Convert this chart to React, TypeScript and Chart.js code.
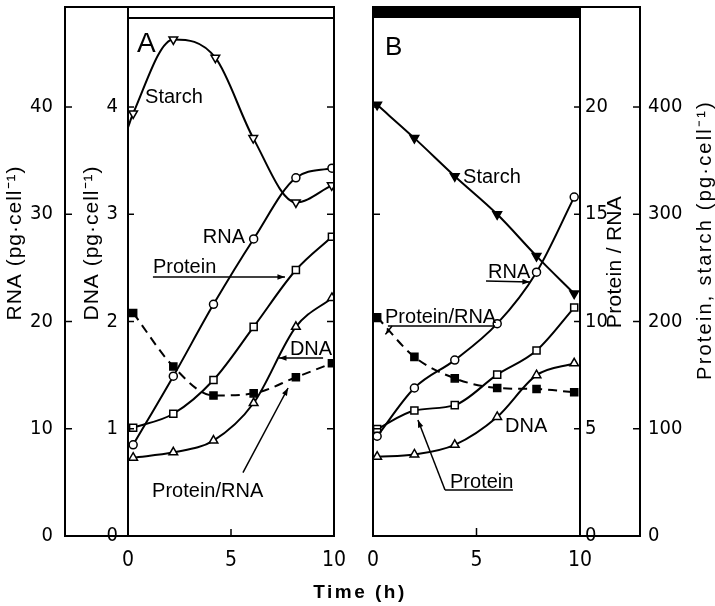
import React, { useEffect, useRef } from 'react';
import { Chart, registerables } from 'chart.js';

Chart.register(...registerables);

// ---------- tick values ----------
const TIME_TICKS = [0, 5, 10];
const RNA_TICKS = [0, 10, 20, 30, 40];
const DNA_TICKS = [0, 1, 2, 3, 4];
const RATIO_TICKS = [0, 5, 10, 15, 20];
const PS_TICKS = [0, 100, 200, 300, 400];

// ---------- Panel A (light) ----------
const TIME_A = [0.25, 2.2, 4.15, 6.1, 8.15, 9.9];
const STARCH_TIME_A = [0, 0.25, 2.2, 4.24, 6.08, 8.15, 9.89];
const STARCH_A = [381, 394, 463, 446, 371, 311, 327];
const RNA_A = [8.5, 14.9, 21.6, 27.7, 33.4, 34.3];
const PROTEIN_A = [101, 114, 145.5, 195, 248, 279];
const DNA_A = [0.73, 0.78, 0.89, 1.24, 1.95, 2.22];
const RATIO_A = [10.4, 7.9, 6.55, 6.65, 7.4, 8.05];

// ---------- Panel B (dark) ----------
const TIME_B = [0.2, 2.0, 3.95, 6.0, 7.9, 9.72];
const STARCH_B = [402, 371, 335.5, 300, 261, 226];
const RNA_B = [9.3, 13.8, 16.4, 19.8, 24.6, 31.6];
const PROTEIN_B = [99.7, 117, 122, 150.5, 173, 213];
const DNA_B = [0.74, 0.76, 0.85, 1.11, 1.5, 1.61];
const RATIO_B = [10.2, 8.35, 7.35, 6.9, 6.85, 6.7];

// axis ranges
const RNA_MAX = 48.3;
const DNA_MAX = 4.83;
const RATIO_MAX = 24.15;
const PS_MAX = 483;

const SANS = "'Liberation Sans', Arial, sans-serif";
const NARROW = "'Liberation Sans Narrow', 'DejaVu Sans Condensed', 'Liberation Sans', sans-serif";

// annotations, in (time, RNA-scale value) coordinates
const LABELS_A = [
  { text: 'A', t: 0.44, v: 45.1, size: 28 },
  { text: 'Starch', t: 0.83, v: 40.4 },
  { text: 'RNA', t: 5.68, v: 27.3, align: 'right' },
  { text: 'Protein', t: 1.21, v: 24.5 },
  { text: 'DNA', t: 7.86, v: 16.9 },
  { text: 'Protein/RNA', t: 1.17, v: 3.6 },
];
const ARROWS_A = [
  { from: [1.21, 24.15], to: [7.62, 24.15] },
  { from: [9.47, 16.6], to: [7.33, 16.6] },
  { from: [5.58, 5.9], to: [7.77, 13.8] },
];
const LINES_A: any[] = [];

const LABELS_B = [
  { text: 'B', t: 0.58, v: 44.85, size: 26 },
  { text: 'Starch', t: 4.35, v: 32.9 },
  { text: 'RNA', t: 5.56, v: 24.06 },
  { text: 'Protein/RNA', t: 0.58, v: 19.86 },
  { text: 'DNA', t: 6.38, v: 9.7 },
  { text: 'Protein', t: 3.72, v: 4.48 },
];
const ARROWS_B = [
  { from: [5.46, 23.78], to: [7.58, 23.68] },
  { from: [0.92, 19.58], to: [0.6, 18.8], head: 6 },
  { from: [3.48, 4.29], to: [2.17, 10.82] },
];
const LINES_B = [
  { from: [0.72, 19.58], to: [5.89, 19.58] },
  { from: [3.48, 4.29], to: [6.76, 4.29] },
];

function seg(ctx: CanvasRenderingContext2D, x1: number, y1: number, x2: number, y2: number) {
  ctx.beginPath();
  ctx.moveTo(x1, y1);
  ctx.lineTo(x2, y2);
  ctx.stroke();
}

function arrow(ctx: CanvasRenderingContext2D, x1: number, y1: number, x2: number, y2: number, size = 8) {
  seg(ctx, x1, y1, x2, y2);
  const a = Math.atan2(y2 - y1, x2 - x1);
  ctx.beginPath();
  ctx.moveTo(x2, y2);
  ctx.lineTo(x2 - size * Math.cos(a - 0.35), y2 - size * Math.sin(a - 0.35));
  ctx.lineTo(x2 - size * Math.cos(a + 0.35), y2 - size * Math.sin(a + 0.35));
  ctx.closePath();
  ctx.fill();
}

function rotText(ctx: CanvasRenderingContext2D, text: string, x: number, y: number, size: number, spacing = 0) {
  ctx.save();
  ctx.translate(x, y);
  ctx.rotate(-Math.PI / 2);
  ctx.font = `${size}px ${SANS}`;
  (ctx as any).letterSpacing = `${spacing}px`;
  ctx.textAlign = 'center';
  ctx.textBaseline = 'middle';
  ctx.fillText(text, 0, 0);
  ctx.restore();
}

function drawAnnotations(chart: any, labels: any[], arrows: any[], lines: any[]) {
  const { ctx, scales } = chart;
  const X = (t: number) => scales.x.getPixelForValue(t);
  const Y = (v: number) => scales.rna.getPixelForValue(v);
  ctx.save();
  ctx.fillStyle = '#000';
  ctx.strokeStyle = '#000';
  ctx.lineWidth = 1.5;
  labels.forEach((l) => {
    ctx.font = `${l.size || 20}px ${SANS}`;
    ctx.textAlign = l.align || 'left';
    ctx.textBaseline = 'alphabetic';
    ctx.fillText(l.text, X(l.t), Y(l.v));
  });
  lines.forEach((l) => seg(ctx, X(l.from[0]), Y(l.from[1]), X(l.to[0]), Y(l.to[1])));
  arrows.forEach((a) => arrow(ctx, X(a.from[0]), Y(a.from[1]), X(a.to[0]), Y(a.to[1]), a.head || 8));
  ctx.restore();
}

const BAR = 11;

const frameA = {
  id: 'frameA',
  afterDraw(chart: any) {
    const { ctx, chartArea: ca, scales } = chart;
    const rna = scales.rna;
    const dna = scales.dna;
    const outerL = rna.right;
    const top = ca.top - BAR;
    ctx.save();
    ctx.strokeStyle = '#000';
    ctx.lineWidth = 2;
    ctx.strokeRect(outerL, top, ca.right - outerL, ca.bottom - top);
    seg(ctx, ca.left, top, ca.left, ca.bottom);
    seg(ctx, ca.left, ca.top, ca.right, ca.top);
    ctx.lineWidth = 1.5;
    RNA_TICKS.filter((v) => v > 0).forEach((v) => {
      const y = rna.getPixelForValue(v);
      seg(ctx, outerL, y, outerL + 7, y);
      seg(ctx, ca.right, y, ca.right - 7, y);
    });
    DNA_TICKS.filter((v) => v > 0).forEach((v) => {
      const y = dna.getPixelForValue(v);
      seg(ctx, ca.left, y, ca.left + 6, y);
    });
    const x5 = scales.x.getPixelForValue(5);
    seg(ctx, x5, ca.bottom, x5, ca.bottom - 7);
    ctx.fillStyle = '#000';
    rotText(ctx, 'RNA (pg·cell⁻¹)', rna.left + 15, ca.top + 225, 21, 1);
    rotText(ctx, 'DNA (pg·cell⁻¹)', dna.left + 27, ca.top + 225, 21, 1);
    ctx.font = `bold 19px ${SANS}`;
    (ctx as any).letterSpacing = '2.5px';
    ctx.textAlign = 'center';
    ctx.textBaseline = 'alphabetic';
    ctx.fillText('Time (h)', ca.right + 26, 598);
    ctx.restore();
    drawAnnotations(chart, LABELS_A, ARROWS_A, LINES_A);
  },
};

const frameB = {
  id: 'frameB',
  afterDraw(chart: any) {
    const { ctx, chartArea: ca, scales } = chart;
    const ratio = scales.ratio;
    const ps = scales.ps;
    const outerR = ratio.right;
    const top = ca.top - BAR;
    ctx.save();
    ctx.fillStyle = '#000';
    ctx.fillRect(ca.left, top, ca.right - ca.left, BAR);
    ctx.strokeStyle = '#000';
    ctx.lineWidth = 2;
    ctx.strokeRect(ca.left, top, outerR - ca.left, ca.bottom - top);
    seg(ctx, ca.right, top, ca.right, ca.bottom);
    ctx.lineWidth = 1.5;
    RATIO_TICKS.filter((v) => v > 0).forEach((v) => {
      const y = ratio.getPixelForValue(v);
      seg(ctx, ca.left, y, ca.left + 7, y);
      seg(ctx, ca.right, y, ca.right - 6, y);
    });
    PS_TICKS.filter((v) => v > 0).forEach((v) => {
      const y = ps.getPixelForValue(v);
      seg(ctx, outerR, y, outerR - 7, y);
    });
    const x5 = scales.x.getPixelForValue(5);
    seg(ctx, x5, ca.bottom, x5, ca.bottom - 8);
    rotText(ctx, 'Protein / RNA', ratio.left + 35, ca.top + 244, 21, 0.3);
    rotText(ctx, 'Protein, starch (pg·cell⁻¹)', ps.left + 65, ca.top + 222, 20, 2.2);
    ctx.restore();
    drawAnnotations(chart, LABELS_B, ARROWS_B, LINES_B);
  },
};

function yAxis(max: number, ticks: number[], opts: any = {}) {
  return {
    type: 'linear',
    axis: 'y',
    min: 0,
    max,
    display: opts.display !== undefined ? opts.display : true,
    position: opts.position || 'left',
    weight: opts.weight || 0,
    grid: { display: false, drawTicks: false },
    border: { display: false },
    ticks: { padding: opts.padding || 8, color: '#000', font: { family: NARROW, size: 20 }, autoSkip: false },
    afterBuildTicks: (s: any) => {
      s.ticks = ticks.map((v) => ({ value: v }));
    },
    afterFit: (s: any) => {
      if (opts.width !== undefined) s.width = opts.width;
      s.paddingTop = 0;
      s.paddingBottom = 0;
    },
  };
}

const xAxis = {
  type: 'linear',
  axis: 'x',
  position: 'bottom',
  min: 0,
  max: 10,
  grid: { display: false, drawTicks: false },
  border: { display: false },
  ticks: { padding: 12, color: '#000', font: { family: NARROW, size: 21 }, autoSkip: false },
  afterBuildTicks: (s: any) => {
    s.ticks = TIME_TICKS.map((v) => ({ value: v }));
  },
  afterFit: (s: any) => {
    s.height = 70;
    s.paddingLeft = 0;
    s.paddingRight = 0;
  },
};

function series(xs: number[], ys: number[], yAxisID: string, st: any) {
  return {
    label: st.label,
    yAxisID,
    xAxisID: 'x',
    data: xs.map((x, i) => ({ x, y: ys[i] })),
    borderColor: '#000',
    borderWidth: 2,
    cubicInterpolationMode: 'monotone',
    fill: false,
    borderDash: st.dash || [],
    pointStyle: st.shape,
    pointRadius: st.r,
    pointRotation: st.rot || 0,
    pointBorderColor: '#000',
    pointBorderWidth: 1.5,
    pointBackgroundColor: st.filled ? '#000' : '#fff',
  };
}

const baseOptions = (padding: any) => ({
  responsive: false,
  animation: false,
  devicePixelRatio: 1,
  events: [],
  layout: { padding },
  plugins: { legend: { display: false }, tooltip: { enabled: false } },
});

function configA(): any {
  return {
    type: 'line',
    data: {
      datasets: [
        series(STARCH_TIME_A, STARCH_A, 'ps', { label: 'Starch', shape: 'triangle', rot: 180, r: STARCH_A.map((_, i) => (i === 0 ? 0 : 5)) }),
        series(TIME_A, RNA_A, 'rna', { label: 'RNA', shape: 'circle', r: 4 }),
        series(TIME_A, PROTEIN_A, 'ps', { label: 'Protein', shape: 'rect', r: 5 }),
        series(TIME_A, DNA_A, 'dna', { label: 'DNA', shape: 'triangle', r: 5 }),
        series(TIME_A, RATIO_A, 'ratio', { label: 'Protein/RNA', shape: 'rect', r: 5, filled: true, dash: [9, 6] }),
      ],
    },
    options: {
      ...baseOptions({ left: 0, top: 18, right: 381, bottom: 0 }),
      scales: {
        x: xAxis,
        rna: yAxis(RNA_MAX, RNA_TICKS, { position: 'left', weight: 2, width: 65, padding: 12 }),
        dna: yAxis(DNA_MAX, DNA_TICKS, { position: 'left', weight: 1, width: 63, padding: 10 }),
        ratio: yAxis(RATIO_MAX, RATIO_TICKS, { display: false }),
        ps: yAxis(PS_MAX, PS_TICKS, { display: false }),
      },
    },
    plugins: [frameA],
  };
}

function configB(): any {
  return {
    type: 'line',
    data: {
      datasets: [
        series(TIME_B, STARCH_B, 'ps', { label: 'Starch', shape: 'triangle', rot: 180, r: 5, filled: true }),
        series(TIME_B, RNA_B, 'rna', { label: 'RNA', shape: 'circle', r: 4 }),
        series(TIME_B, PROTEIN_B, 'ps', { label: 'Protein', shape: 'rect', r: 5 }),
        series(TIME_B, DNA_B, 'dna', { label: 'DNA', shape: 'triangle', r: 5 }),
        series(TIME_B, RATIO_B, 'ratio', { label: 'Protein/RNA', shape: 'rect', r: 5, filled: true, dash: [9, 6] }),
      ],
    },
    options: {
      ...baseOptions({ left: 23, top: 18, right: 0, bottom: 0 }),
      scales: {
        x: xAxis,
        ratio: yAxis(RATIO_MAX, RATIO_TICKS, { position: 'right', weight: 1, width: 60, padding: 5 }),
        ps: yAxis(PS_MAX, PS_TICKS, { position: 'right', weight: 2, width: 75, padding: 8 }),
        rna: yAxis(RNA_MAX, RNA_TICKS, { display: false }),
        dna: yAxis(DNA_MAX, DNA_TICKS, { display: false }),
      },
    },
    plugins: [frameB],
  };
}

export default function App() {
  const refA = useRef<HTMLCanvasElement>(null);
  const refB = useRef<HTMLCanvasElement>(null);
  useEffect(() => {
    const a = new Chart(refA.current as HTMLCanvasElement, configA());
    const b = new Chart(refB.current as HTMLCanvasElement, configB());
    return () => {
      a.destroy();
      b.destroy();
    };
  }, []);
  return (
    <div style={{ position: 'absolute', left: 0, top: 0, width: 715, height: 606, background: '#fff' }}>
      <canvas ref={refA} width={715} height={606} style={{ position: 'absolute', left: 0, top: 0 }} />
      <canvas ref={refB} width={365} height={606} style={{ position: 'absolute', left: 350, top: 0 }} />
    </div>
  );
}
